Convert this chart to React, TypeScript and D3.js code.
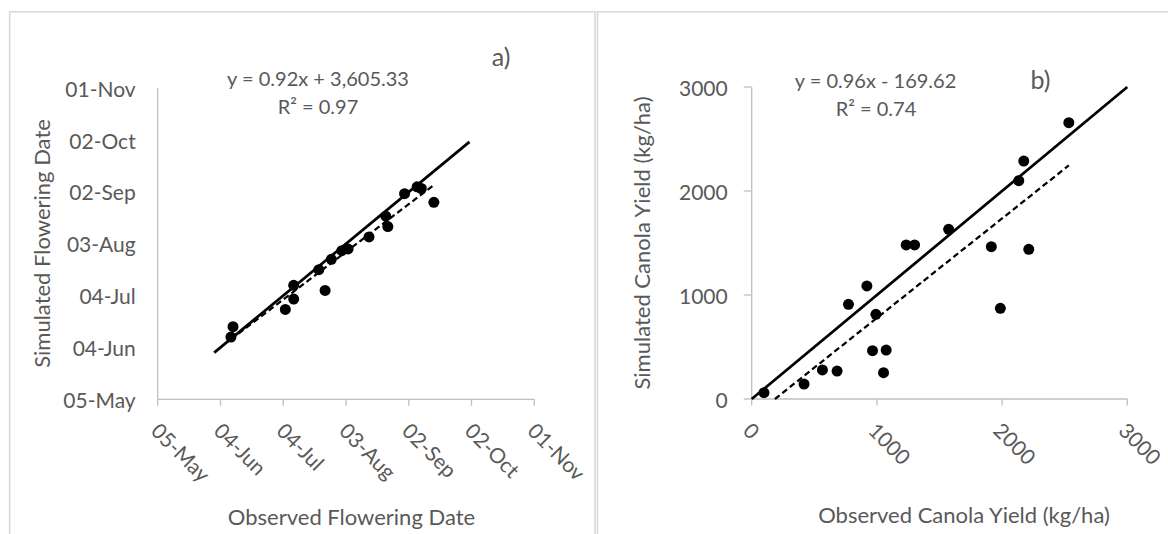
import React from "react";
import * as d3 from "d3";

// panel a: observed vs simulated flowering dates
const obsFlowering = [
  "2023-06-09", "2023-06-10", "2023-07-05", "2023-07-09", "2023-07-09", "2023-07-24",
  "2023-07-21", "2023-07-27", "2023-08-01", "2023-08-04", "2023-08-14", "2023-08-22",
  "2023-08-23", "2023-08-31", "2023-09-06", "2023-09-08", "2023-09-14",
];
const simFlowering = [
  "2023-06-10", "2023-06-16", "2023-06-26", "2023-07-02", "2023-07-10", "2023-07-07",
  "2023-07-19", "2023-07-25", "2023-07-30", "2023-07-31", "2023-08-07", "2023-08-19",
  "2023-08-13", "2023-09-01", "2023-09-05", "2023-09-04", "2023-08-27",
];
const dateTicks = ["2023-05-05", "2023-06-04", "2023-07-04", "2023-08-03", "2023-09-02", "2023-10-02", "2023-11-01"];
const oneToOneA = ["2023-06-01", "2023-10-01"];

// panel b: canola yield (kg/ha)
const obsYield = [98, 418, 565, 682, 773, 920, 992, 965, 1074, 1053, 1234, 1301, 1573, 1914, 1986, 2133, 2173, 2213, 2533];
const simYield = [61, 144, 279, 269, 910, 1087, 814, 465, 471, 253, 1481, 1481, 1632, 1465, 872, 2099, 2288, 1439, 2657];
const yieldTicks = [0, 1000, 2000, 3000];
const oneToOneB = [0, 3000];

const eqA = ["y = 0.92x + 3,605.33", "R² = 0.97"];
const eqB = ["y = 0.96x - 169.62", "R² = 0.74"];

const GREY = "#595959";
const AXIS = "#bfbfbf";
const FONT = "Lato, 'Open Sans', sans-serif";

const parse = d3.utcParse("%Y-%m-%d");
const fmt = d3.utcFormat("%d-%b");

function fit(xs: number[], ys: number[]) {
  const mx = d3.mean(xs)!;
  const my = d3.mean(ys)!;
  let sxy = 0, sxx = 0;
  xs.forEach((x, i) => {
    sxy += (x - mx) * (ys[i] - my);
    sxx += (x - mx) * (x - mx);
  });
  const m = sxy / sxx;
  return { m, b: my - m * mx };
}

export default function App() {
  // ---- panel a scales
  const ticksA = dateTicks.map((d) => parse(d)!);
  const xA = d3.scaleUtc().domain([ticksA[0], ticksA[ticksA.length - 1]]).range([157.7, 534.3]);
  const yA = d3.scaleUtc().domain([ticksA[0], ticksA[ticksA.length - 1]]).range([399.3, 88.3]);
  const ptsA = obsFlowering.map((d, i) => [parse(d)!.getTime(), parse(simFlowering[i])!.getTime()]);
  const fa = fit(ptsA.map((p) => p[0]), ptsA.map((p) => p[1]));
  const axMin = d3.min(ptsA, (p) => p[0])!;
  const axMax = d3.max(ptsA, (p) => p[0])!;
  const lineA = d3.line<number[]>().x((p) => xA(p[0])).y((p) => yA(p[1]));
  const oneA = oneToOneA.map((d) => [parse(d)!.getTime(), parse(d)!.getTime()]);
  const trendA = [axMin, axMax].map((x) => [x, fa.m * x + fa.b]);

  // ---- panel b scales
  const xB = d3.scaleLinear().domain([0, 3000]).range([751.7, 1127.3]);
  const yB = d3.scaleLinear().domain([0, 3000]).range([399, 87]);
  const fb = fit(obsYield, simYield);
  const bxMin = Math.max(d3.min(obsYield)!, -fb.b / fb.m);
  const bxMax = d3.max(obsYield)!;
  const lineB = d3.line<number[]>().x((p) => xB(p[0])).y((p) => yB(p[1]));
  const oneB = oneToOneB.map((v) => [v, v]);
  const trendB = [bxMin, bxMax].map((x) => [x, fb.m * x + fb.b]);

  const axA = yA.range()[0];
  const axB = yB.range()[0];

  return (
    <div style={{ position: "absolute", left: 0, top: 0 }}>
      <svg width={1168} height={534} style={{ display: "block", background: "#fff" }} fontFamily={FONT}>
        {/* panel frames */}
        <path d="M9.7,540 V11.7 H595 V540" fill="none" stroke="#d9d9d9" strokeWidth={1.6} />
        <path d="M597.5,540 V11.7 H1175" fill="none" stroke="#d9d9d9" strokeWidth={1.6} />

        {/* ===== panel a ===== */}
        <line x1={xA.range()[0]} x2={xA.range()[0]} y1={yA.range()[1]} y2={axA} stroke={AXIS} strokeWidth={1.3} />
        <line x1={xA.range()[0]} x2={xA.range()[1]} y1={axA} y2={axA} stroke={AXIS} strokeWidth={1.3} />
        {ticksA.map((t, i) => (
          <g key={"xa" + i}>
            <line x1={xA(t)} x2={xA(t)} y1={axA} y2={axA + 6.5} stroke={AXIS} strokeWidth={1.3} />
            <text
              transform={`translate(${xA(t) - 2},${axA + 27}) rotate(45)`}
              fontSize={21}
              fill={GREY}
              dominantBaseline="central"
            >
              {fmt(t)}
            </text>
            <text x={xA.range()[0] - 22} y={yA(t)} fontSize={21} fill={GREY} textAnchor="end" dominantBaseline="central">
              {fmt(t)}
            </text>
          </g>
        ))}
        <path d={lineA(oneA)!} fill="none" stroke="#000" strokeWidth={2.75} />
        <path d={lineA(trendA)!} fill="none" stroke="#000" strokeWidth={2.25} strokeDasharray="6 3.5" />
        {ptsA.map((p, i) => (
          <circle key={"pa" + i} cx={xA(p[0])} cy={yA(p[1])} r={5.5} fill="#000" />
        ))}
        <text x={318} y={77.7} fontSize={20} fill={GREY} textAnchor="middle" dominantBaseline="central">{eqA[0]}</text>
        <text x={318} y={105.6} fontSize={20} fill={GREY} textAnchor="middle" dominantBaseline="central">{eqA[1]}</text>
        <text x={501} y={56} fontSize={25} fill={GREY} textAnchor="middle" dominantBaseline="central">a)</text>
        <text x={351.5} y={516} fontSize={22} fill={GREY} textAnchor="middle" dominantBaseline="central">
          Observed Flowering Date
        </text>
        <text
          transform="translate(41.5,243.5) rotate(-90)"
          fontSize={22}
          fill={GREY}
          textAnchor="middle"
          dominantBaseline="central"
        >
          Simulated Flowering Date
        </text>

        {/* ===== panel b ===== */}
        <line x1={xB.range()[0]} x2={xB.range()[0]} y1={yB.range()[1]} y2={axB} stroke={AXIS} strokeWidth={1.3} />
        <line x1={xB.range()[0]} x2={xB.range()[1]} y1={axB} y2={axB} stroke={AXIS} strokeWidth={1.3} />
        {yieldTicks.map((t, i) => (
          <g key={"tb" + i}>
            <line x1={xB(t)} x2={xB(t)} y1={axB} y2={axB + 6.5} stroke={AXIS} strokeWidth={1.3} />
            <line x1={xB.range()[0] - 8} x2={xB.range()[0]} y1={yB(t)} y2={yB(t)} stroke={AXIS} strokeWidth={1.3} />
            <text
              transform={`translate(${xB(t) - 4},${axB + 27}) rotate(45)`}
              fontSize={21}
              fill={GREY}
              dominantBaseline="central"
            >
              {t}
            </text>
            <text x={xB.range()[0] - 24} y={yB(t)} fontSize={21} fill={GREY} textAnchor="end" dominantBaseline="central">
              {t}
            </text>
          </g>
        ))}
        <path d={lineB(oneB)!} fill="none" stroke="#000" strokeWidth={2.75} />
        <path d={lineB(trendB)!} fill="none" stroke="#000" strokeWidth={2.25} strokeDasharray="6 3.5" />
        {obsYield.map((x, i) => (
          <circle key={"pb" + i} cx={xB(x)} cy={yB(simYield[i])} r={5.5} fill="#000" />
        ))}
        <text x={875.5} y={80} fontSize={20} fill={GREY} textAnchor="middle" dominantBaseline="central">{eqB[0]}</text>
        <text x={876} y={108} fontSize={20} fill={GREY} textAnchor="middle" dominantBaseline="central">{eqB[1]}</text>
        <text x={1040.5} y={79} fontSize={25} fill={GREY} textAnchor="middle" dominantBaseline="central">b)</text>
        <text x={964} y={514} fontSize={22} fill={GREY} textAnchor="middle" dominantBaseline="central">
          Observed Canola Yield (kg/ha)
        </text>
        <text
          transform="translate(641.8,243) rotate(-90)"
          fontSize={22}
          fill={GREY}
          textAnchor="middle"
          dominantBaseline="central"
        >
          Simulated Canola Yield (kg/ha)
        </text>
      </svg>
    </div>
  );
}
